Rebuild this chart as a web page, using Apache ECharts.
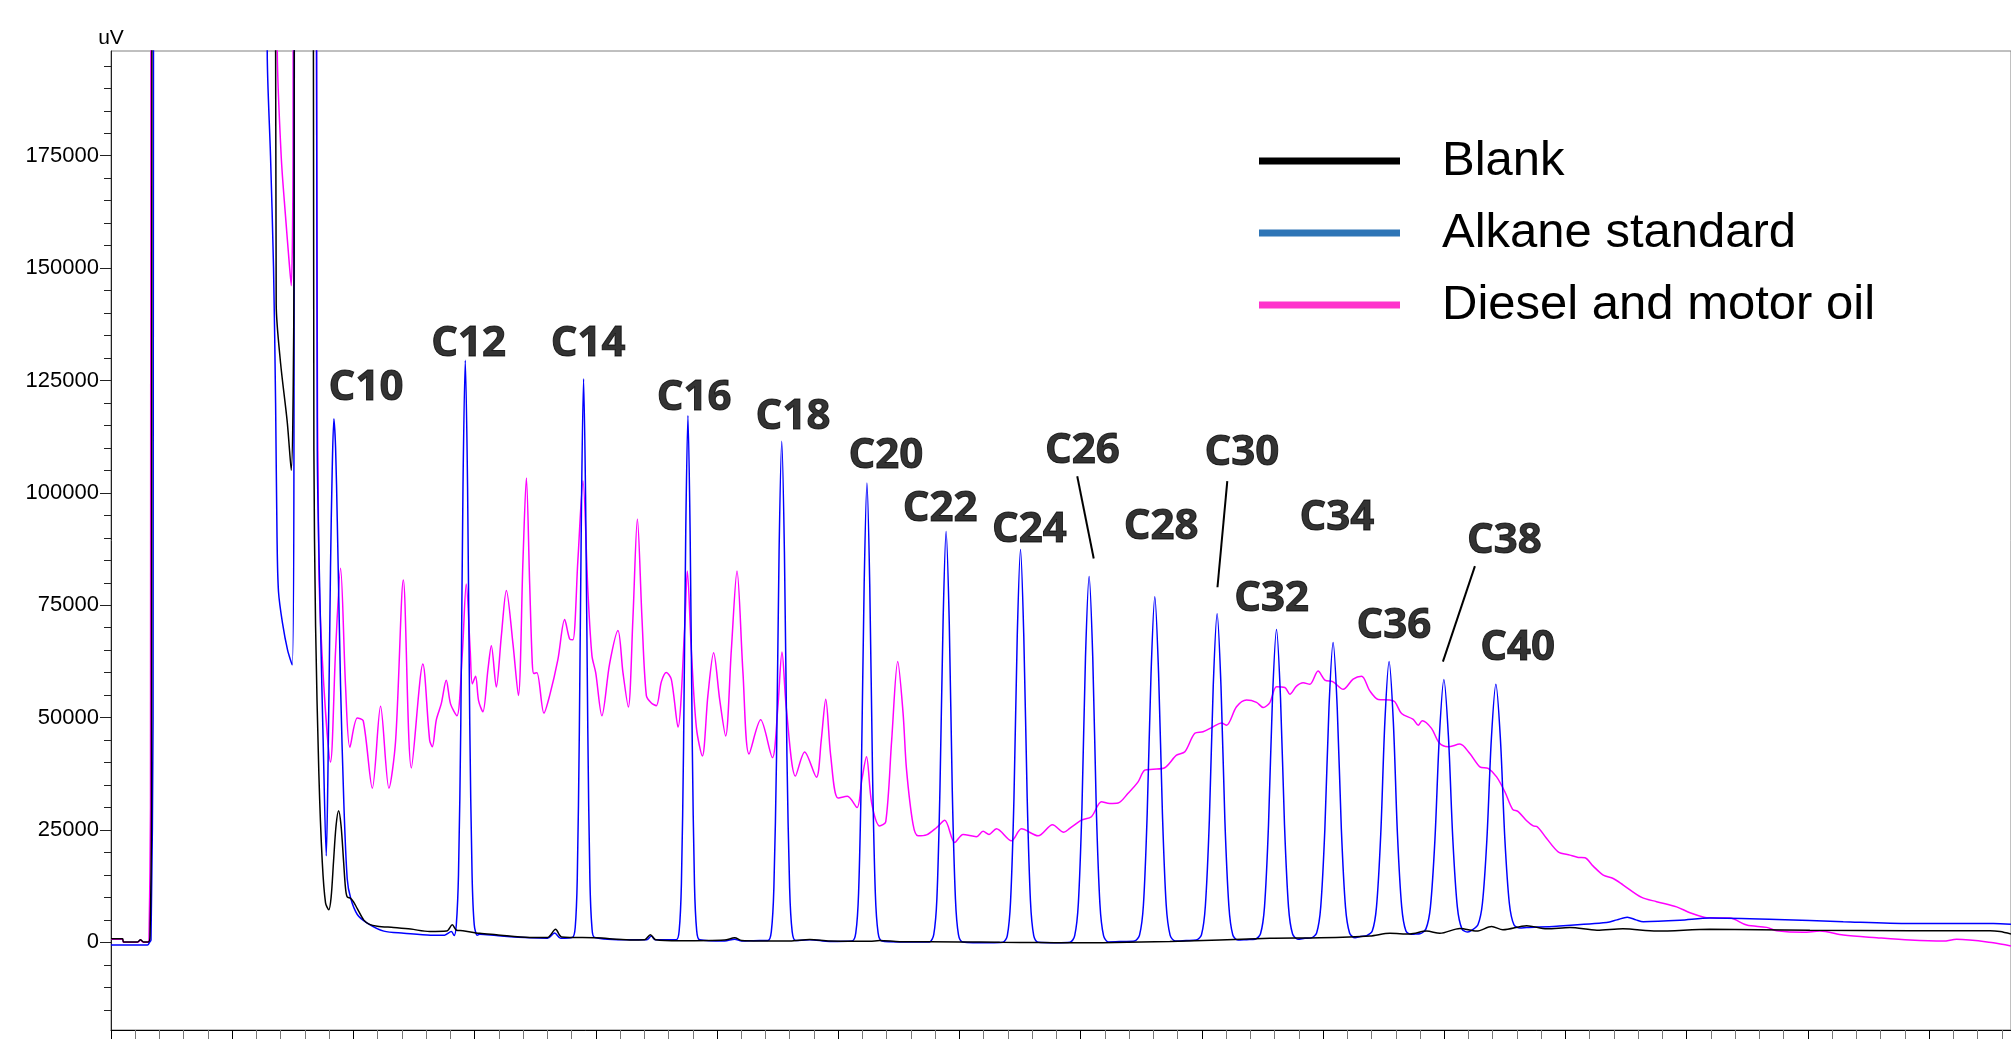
<!DOCTYPE html>
<html><head><meta charset="utf-8">
<script src="https://cdn.jsdelivr.net/npm/echarts@6/dist/echarts.min.js"></script>
<style>html,body{margin:0;padding:0;background:#fff}#chart{width:2011px;height:1039px}</style>
</head><body><div id="chart"></div>
<script>
// Retention time (min) vs detector signal (uV)
const seriesNames = ['Blank', 'Alkane standard', 'Diesel and motor oil'];

const blank = [[0,800],[0.095,800],[0.103,100],[0.219,100],[0.243,600],[0.268,100],[0.309,100],[0.322,1500],[0.334,30000],[0.342,400000],
[1.333,400000],[1.363,141900],[1.399,128900],[1.454,115800],[1.487,105000],[1.510,150000],[1.519,400000],
[1.650,400000],[1.674,109300],[1.688,70200],[1.715,37500],[1.743,17950],[1.770,8800],[1.797,7250],[1.816,10000],[1.836,18000],[1.857,26000],[1.878,29300],[1.898,26000],[1.919,18000],[1.935,12000],[1.949,10100],[1.977,9800],[2.001,9000],[2.032,7500],[2.086,4950],[2.133,4000],[2.197,3600],[2.331,3300],[2.472,2950],[2.629,2400],[2.769,2500],[2.816,3900],[2.851,2700],[2.903,2600],[3.041,2000],[3.179,1700],[3.454,1100],[3.602,1100],[3.668,2900],[3.718,1200],[4.004,1000],[4.279,550],[4.403,600],[4.450,1700],[4.494,600],[4.692,350],[5.063,500],[5.146,1000],[5.203,400],[5.352,300],[5.600,300],[5.765,650],[5.930,300],[6.260,250],[6.342,400],[6.507,150],[7.003,100],[7.333,0],[7.663,-50],[7.910,-100],[8.736,200],[9.561,900],[9.974,1000],[10.386,1400],[10.551,2000],[10.716,1850],[10.854,2500],[10.964,2000],[11.129,3100],[11.267,2500],[11.391,3500],[11.484,2800],[11.680,3700],[11.847,3000],[12.037,3300],[12.260,2700],[12.474,3000],[12.755,2500],[13.192,2900],[14.017,2700],[14.843,2600],[15.503,2600],[15.586,2400],[15.676,1850]];

const alkane = [[0,-600],[0.301,-600],[0.318,0],[0.330,500],[0.347,50000],[0.356,400000],
[1.283,400000],[1.289,198000],[1.316,175000],[1.341,150000],[1.358,120000],[1.370,90000],[1.382,78000],[1.415,71000],[1.457,65000],[1.495,61700],[1.510,120000],[1.523,400000],
[1.670,400000],[1.702,109300],[1.729,70200],[1.751,44200],[1.776,19250],[1.791,40000],[1.811,83200],[1.825,105000],[1.839,116500],[1.853,110000],[1.867,93700],[1.894,57100],[1.921,31000],[1.949,14100],[1.977,9850],[2.032,6200],[2.114,4300],[2.251,2500],[2.416,2050],[2.637,1600],[2.752,1600],[2.808,2400],[2.831,1500],
[2.849,3900],[2.867,15100],[2.886,48700],[2.904,101200],[2.923,129500],[2.942,101200],[2.960,48700],[2.979,15100],[2.997,3900],[3.022,1600],
[3.041,1800],[3.179,1500],[3.454,1000],[3.602,900],[3.660,2100],[3.710,900],
[3.807,1100],[3.830,3300],[3.847,14200],[3.864,46900],[3.882,97900],[3.899,125400],[3.916,97900],[3.934,46900],[3.951,14200],[3.968,3300],[3.991,1100],
[4.279,600],[4.420,600],[4.458,1400],[4.490,600],
[4.664,600],[4.688,2700],[4.706,12900],[4.724,43600],[4.742,91400],[4.760,117200],[4.778,91400],[4.796,43600],[4.814,12900],[4.832,2700],[4.856,600],
[5.063,300],[5.146,700],[5.203,300],[5.352,400],
[5.419,400],[5.448,2400],[5.469,12100],[5.491,41300],[5.512,86900],[5.534,111500],[5.556,86900],[5.577,41300],[5.599,12100],[5.620,2400],[5.649,400],
[5.765,600],[5.930,200],
[6.114,300],[6.145,2100],[6.168,11000],[6.191,37800],[6.214,79700],[6.237,102200],[6.260,79700],[6.283,37800],[6.306,11000],[6.329,2100],[6.360,300],
[6.507,100],[6.700,100],
[6.754,100],[6.788,1700],[6.814,9700],[6.839,33700],[6.865,71200],[6.890,91400],[6.916,71200],[6.941,33700],[6.967,9700],[6.992,1700],[7.026,100],
[7.250,-100],
[7.359,0],[7.395,1500],[7.422,9200],[7.450,32200],[7.477,68100],[7.504,87400],[7.531,68100],[7.559,32200],[7.586,9200],[7.613,1500],[7.649,0],
[7.800,-100],
[7.912,0],[7.951,1500],[7.981,8600],[8.011,30000],[8.040,63400],[8.070,81400],[8.100,63400],[8.129,30000],[8.159,8600],[8.189,1500],[8.229,100],
[8.350,200],
[8.444,300],[8.486,1600],[8.518,8300],[8.549,28500],[8.581,59900],[8.612,76900],[8.643,59900],[8.675,28500],[8.706,8300],[8.738,1600],[8.780,300],
[8.870,400],
[8.954,500],[8.997,1700],[9.029,8100],[9.062,27200],[9.094,57000],[9.126,73100],[9.158,57000],[9.190,27200],[9.223,8100],[9.255,1700],[9.298,500],
[9.370,600],
[9.440,700],[9.484,1900],[9.517,7900],[9.550,26100],[9.583,54400],[9.616,69600],[9.649,54400],[9.682,26100],[9.715,7900],[9.748,1900],[9.792,700],
[9.850,900],
[9.902,1000],[9.947,2100],[9.981,7900],[10.015,25200],[10.049,52200],[10.083,66700],[10.117,52200],[10.151,25200],[10.185,7900],[10.219,2100],[10.264,1000],
[10.310,1300],
[10.360,1500],[10.406,2500],[10.441,7900],[10.476,24000],[10.510,49000],[10.545,62500],[10.580,49000],[10.614,24000],[10.649,7900],[10.684,2500],[10.730,1800],
[10.760,1850],
[10.799,1900],[10.849,3000],[10.886,7900],[10.923,22800],[10.960,46000],[10.997,58500],[11.034,46000],[11.071,22800],[11.108,7900],[11.146,3000],[11.195,2300],
[11.228,2700],[11.278,3900],[11.315,8700],[11.352,23000],[11.389,45400],[11.426,57400],[11.463,45400],[11.500,23000],[11.537,8700],[11.575,3900],[11.624,3200],
[11.680,3300],[11.927,3600],[12.340,4400],[12.425,5000],[12.510,5600],[12.582,5000],[12.642,4600],[12.945,4900],[13.192,5400],[13.743,5100],[14.292,4600],[14.843,4200],[15.530,4200],[15.676,4000]];

const diesel = [[0,700],[0.095,700],[0.103,0],[0.219,0],[0.243,500],[0.268,0],[0.309,0],[0.314,1500],[0.326,30000],[0.334,400000],
[1.345,400000],[1.372,198000],[1.405,174500],[1.440,161500],[1.465,153000],[1.487,146100],[1.502,175000],[1.515,400000],
[1.667,400000],[1.700,150000],[1.715,83200],[1.756,57100],[1.811,40100],[1.853,65000],[1.894,83200],[1.935,57100],[1.971,43400],[2.032,49900],[2.081,49300],[2.156,34300],[2.224,52500],[2.293,34300],[2.348,44800],[2.412,80600],[2.478,38800],[2.573,61900],[2.629,45000],[2.651,43500],[2.684,49500],[2.725,53100],[2.766,58300],[2.802,53000],[2.854,50400],[2.898,64000],[2.931,79700],[2.964,64700],[2.981,57500],[3.008,59200],[3.033,53700],[3.068,51300],[3.110,60700],[3.138,66000],[3.179,56800],[3.220,68000],[3.262,78300],[3.316,66500],[3.361,54900],[3.399,85000],[3.427,103300],[3.454,80000],[3.476,62000],[3.489,59800],[3.514,60000],[3.572,51000],[3.619,54900],[3.687,62900],[3.743,71800],[3.784,67500],[3.811,67300],[3.852,85000],[3.894,102700],[3.935,78000],[3.968,63800],[3.999,60000],[4.050,50400],[4.114,62000],[4.183,69350],[4.224,60000],[4.268,52350],[4.306,72000],[4.343,94200],[4.381,72000],[4.417,54900],[4.458,53250],[4.499,52650],[4.541,58000],[4.582,60050],[4.623,58500],[4.678,47900],[4.733,70000],[4.755,82600],[4.788,65000],[4.830,47700],[4.879,41450],[4.925,55000],[4.972,64400],[5.022,54000],[5.071,45900],[5.118,65000],[5.165,82600],[5.214,60000],[5.264,41900],[5.360,49500],[5.457,41100],[5.501,52000],[5.536,64600],[5.572,52000],[5.647,37000],[5.723,42350],[5.820,36750],[5.860,45000],[5.897,54100],[5.938,41500],[5.998,32100],[6.076,32500],[6.155,30000],[6.194,36000],[6.233,41300],[6.276,31000],[6.342,25900],[6.392,26800],[6.441,45000],[6.491,62500],[6.535,51000],[6.563,38600],[6.617,26300],[6.658,23700],[6.728,23900],[6.810,25500],[6.879,27150],[6.961,22200],[7.030,24000],[7.140,23500],[7.195,24700],[7.244,24000],[7.305,25250],[7.429,22600],[7.512,25250],[7.649,23700],[7.768,26150],[7.861,24500],[7.910,25350],[8.007,27200],[8.089,27950],[8.172,31300],[8.240,30900],[8.309,31000],[8.391,33150],[8.474,35700],[8.529,38300],[8.598,38500],[8.694,38850],[8.791,41650],[8.860,42400],[8.942,46500],[9.010,46850],[9.093,47950],[9.162,48800],[9.204,48300],[9.286,52400],[9.369,53900],[9.451,53400],[9.506,52250],[9.561,53350],[9.616,56850],[9.685,56700],[9.726,55200],[9.781,57000],[9.836,57750],[9.891,57400],[9.959,60350],[10.015,58350],[10.083,57950],[10.166,56300],[10.248,58550],[10.318,59200],[10.386,55950],[10.455,54050],[10.551,53900],[10.593,53500],[10.648,50900],[10.744,49600],[10.785,48300],[10.818,49300],[10.895,47600],[10.958,44400],[11.032,43500],[11.129,44100],[11.211,42000],[11.294,39050],[11.362,38700],[11.432,36800],[11.500,33500],[11.564,29600],[11.610,29100],[11.680,27050],[11.734,25900],[11.762,25800],[11.845,23100],[11.940,20150],[12.037,19400],[12.105,18900],[12.161,18800],[12.229,16950],[12.312,14950],[12.394,14200],[12.477,12750],[12.629,10000],[12.752,9050],[12.917,7900],[13.027,6600],[13.151,5550],[13.192,5450],[13.357,5400],[13.495,3850],[13.660,3330],[13.743,2590],[13.962,2220],[14.100,2500],[14.292,1620],[14.568,1020],[14.843,510],[15.118,290],[15.228,670],[15.530,-90],[15.676,-820]];

const yTickLabels = [0, 25000, 50000, 75000, 100000, 125000, 150000, 175000];
const yMinorTicks = [-15000,-10000,-5000,5000,10000,15000,20000,30000,35000,40000,45000,55000,60000,65000,70000,80000,85000,90000,95000,105000,110000,115000,120000,130000,135000,140000,145000,155000,160000,165000,170000,180000,185000,190000,195000];
const xMajorTicks = [0,1,2,3,4,5,6,7,8,9,10,11,12,13,14,15];
const xMinorTicks = [];
for (let i = 1; i <= 78; i++) { if (i % 5 !== 0) xMinorTicks.push(+(i * 0.2).toFixed(1)); }

// Peak labels: [text, time, signal] (label centre)
const peakLabels = [['C10',2.104,123300],['C12',2.950,133100],['C14',3.937,133100],['C16',4.811,121100],['C18',5.627,116800],['C20',6.394,108200],['C22',6.840,96500],['C24',7.578,91700],['C26',8.014,109200],['C28',8.664,92500],['C30',9.330,108900],['C32',9.575,76400],['C34',10.114,94500],['C36',10.584,70400],['C38',11.496,89200],['C40',11.606,65500]];
const leaderLines = [[[7.972,103700],[8.108,85400]],[[9.210,102600],[9.129,79000]],[[11.253,83700],[10.989,62450]]];

const FONT = "'Liberation Sans', Arial, sans-serif";
const X_MAX = 15.676;
const chart = echarts.init(document.getElementById('chart'));
chart.setOption({
  animation: false,
  backgroundColor: '#ffffff',
  grid: {left: 111, top: 51, right: 0, height: 979, show: true, borderColor: '#808080', borderWidth: 1, backgroundColor: 'transparent'},
  xAxis: [
    {type: 'value', min: 0, max: X_MAX, position: 'bottom',
     axisLine: {show: true, onZero: false, lineStyle: {color: '#000', width: 1}},
     axisTick: {show: true, length: 10, customValues: xMajorTicks, lineStyle: {color: '#000', width: 1}},
     axisLabel: {show: false}, splitLine: {show: false}},
    {type: 'value', min: 0, max: X_MAX, position: 'bottom',
     axisLine: {show: false, onZero: false},
     axisTick: {show: true, length: 9, customValues: xMinorTicks, lineStyle: {color: '#777', width: 1}},
     axisLabel: {show: false}, splitLine: {show: false}}
  ],
  yAxis: [
    {type: 'value', min: -19500, max: 198300, position: 'left',
     name: 'uV', nameLocation: 'end', nameGap: 2,
     nameTextStyle: {fontSize: 21, color: '#000', fontFamily: FONT, align: 'center'},
     axisLine: {show: true, onZero: false, lineStyle: {color: '#222', width: 1}},
     axisTick: {show: true, length: 11, customValues: yTickLabels, lineStyle: {color: '#222'}},
     axisLabel: {show: true, customValues: yTickLabels, margin: 12, fontSize: 22, color: '#000', fontFamily: FONT,
                 formatter: v => String(v)},
     splitLine: {show: false}},
    {type: 'value', min: -19500, max: 198300, position: 'left',
     axisLine: {show: false, onZero: false},
     axisTick: {show: true, length: 7, customValues: yMinorTicks, lineStyle: {color: '#222'}},
     axisLabel: {show: false}, splitLine: {show: false}}
  ],
  legend: {
    orient: 'vertical', left: 1259, top: 136, padding: 0, itemGap: 22,
    itemWidth: 141, itemHeight: 7, icon: 'rect', selectedMode: false,
    textStyle: {fontSize: 49, fontFamily: FONT, color: '#000', lineHeight: 50, padding: [0, 0, 0, 37]},
    data: [
      {name: seriesNames[0], itemStyle: {color: '#000000'}},
      {name: seriesNames[1], itemStyle: {color: '#2E75B6'}},
      {name: seriesNames[2], itemStyle: {color: '#FF33CC'}}
    ]
  },
  series: [
    {name: seriesNames[2], type: 'line', data: diesel, symbol: 'none', smooth: 0.3,
     lineStyle: {color: '#ff00ff', width: 1.5}, itemStyle: {color: '#ff00ff'}, z: 2},
    {name: seriesNames[1], type: 'line', data: alkane, symbol: 'none', smooth: 0.3,
     lineStyle: {color: '#0000ff', width: 1.5}, itemStyle: {color: '#0000ff'}, z: 3},
    {name: seriesNames[0], type: 'line', data: blank, symbol: 'none', smooth: 0.3,
     lineStyle: {color: '#000000', width: 1.5}, itemStyle: {color: '#000000'}, z: 4},
    {name: 'labels', type: 'scatter', silent: true, z: 10,
     data: peakLabels.map(p => ({name: p[0], value: [p[1], p[2]]})),
     symbol: 'circle', symbolSize: 1, itemStyle: {color: 'rgba(0,0,0,0)'},
     label: {show: true, position: 'inside', formatter: '{b}', fontSize: 42, fontWeight: 'bold',
             fontFamily: "'Open Sans', 'Noto Sans', sans-serif", color: '#000000',
             textBorderColor: '#000000', textBorderWidth: 1},
     markLine: {silent: true, symbol: ['none', 'none'], label: {show: false}, animation: false,
       lineStyle: {color: '#000', width: 2, type: 'solid'},
       data: leaderLines.map(l => [{coord: l[0]}, {coord: l[1]}])}}
  ]
});
</script>
</body></html>
